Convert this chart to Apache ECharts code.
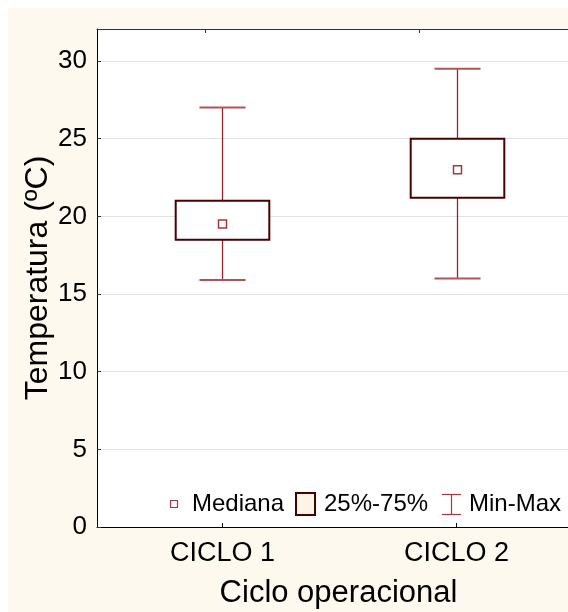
<!DOCTYPE html>
<html>
<head>
<meta charset="utf-8">
<script src="https://cdn.jsdelivr.net/npm/echarts@6/dist/echarts.min.js"></script>
<style>
html,body{margin:0;padding:0;background:#fff;}
#c{width:568px;height:612px;}
</style>
</head>
<body>
<div id="c"></div>
<script>
// ---- data ----
var categories = ['CICLO 1', 'CICLO 2'];
var minValues = [15.9, 16.0];
var q1Values = [18.5, 21.2];
var medianValues = [19.5, 23.0];
var q3Values = [21.0, 25.0];
var maxValues = [27.0, 29.5];
var legendLabels = ['Mediana', '25%-75%', 'Min-Max'];

var FONT = 'Liberation Sans, Arial, sans-serif';
var boxData = categories.map(function (c, i) {
  return [i + 1, minValues[i], q1Values[i], medianValues[i], q3Values[i], maxValues[i]];
});

var xMin = 0.4637, xMax = 2.485;

var chart = echarts.init(document.getElementById('c'), null, {renderer: 'canvas'});
chart.setOption({
  animation: false,
  backgroundColor: 'transparent',
  textStyle: {fontFamily: FONT},
  graphic: {
    elements: [
      {type: 'rect', left: 8, top: 8, z: -100, silent: true,
       shape: {width: 560, height: 604}, style: {fill: '#fdf9ef'}},
      // legend
      {type: 'rect', z: 100, shape: {x: 170.5, y: 500.5, width: 7, height: 7},
       style: {fill: '#fff', stroke: '#a8383e', lineWidth: 1.2}},
      {type: 'text', z: 100, x: 192, y: 504,
       style: {text: legendLabels[0], font: '24px ' + FONT, fill: '#000', verticalAlign: 'middle'}},
      {type: 'rect', z: 100, shape: {x: 296, y: 493, width: 19, height: 22},
       style: {fill: '#fdf6e8', stroke: '#4a0000', lineWidth: 2}},
      {type: 'text', z: 100, x: 324, y: 504,
       style: {text: legendLabels[1], font: '24px ' + FONT, fill: '#000', verticalAlign: 'middle'}},
      {type: 'line', z: 100, shape: {x1: 451.5, y1: 494, x2: 451.5, y2: 515}, style: {stroke: '#a8383e', lineWidth: 1.2}},
      {type: 'line', z: 100, shape: {x1: 442, y1: 494.5, x2: 461, y2: 494.5}, style: {stroke: '#a8383e', lineWidth: 1.2}},
      {type: 'line', z: 100, shape: {x1: 442, y1: 514.5, x2: 461, y2: 514.5}, style: {stroke: '#a8383e', lineWidth: 1.2}},
      {type: 'text', z: 100, x: 469, y: 504,
       style: {text: legendLabels[2], font: '24px ' + FONT, fill: '#000', verticalAlign: 'middle'}}
    ]
  },
  grid: {left: 97, top: 29, right: -2, bottom: 85, show: true, backgroundColor: '#ffffff', borderWidth: 0,
    containLabel: false, outerBoundsMode: 'none'},
  xAxis: [{
    type: 'value', min: xMin, max: xMax, position: 'bottom',
    axisLine: {show: true, onZero: false, lineStyle: {color: '#000', width: 1}},
    axisTick: {show: true, inside: true, length: 4, customValues: [1, 2], lineStyle: {color: '#000'}},
    axisLabel: {show: true, customValues: [1, 2], margin: 13, fontSize: 27, color: '#000', fontFamily: FONT,
      formatter: function (v) { return categories[Math.round(v) - 1] || ''; }},
    splitLine: {show: false},
    name: 'Ciclo operacional', nameLocation: 'middle', nameGap: 51, nameMoveOverlap: false,
    nameTextStyle: {fontSize: 31, color: '#000', fontFamily: FONT, padding: [0, 0, 0, 10]}
  }, {
    type: 'value', min: xMin, max: xMax, position: 'top',
    axisLine: {show: true, onZero: false, lineStyle: {color: '#333', width: 1}},
    axisTick: {show: true, inside: true, length: 4, customValues: [0.925, 1.84], lineStyle: {color: '#333'}},
    axisLabel: {show: false},
    splitLine: {show: false}
  }],
  yAxis: {
    type: 'value', min: 0, max: 32.06, interval: 5,
    axisLine: {show: true, lineStyle: {color: '#000', width: 1}},
    axisTick: {show: true, inside: true, length: 4, lineStyle: {color: '#333'}},
    axisLabel: {show: true, margin: 10, fontSize: 26, color: '#000', fontFamily: FONT, showMaxLabel: false},
    splitLine: {show: true, lineStyle: {color: '#e2e2e2', width: 1}},
    name: 'Temperatura (ºC)', nameLocation: 'middle', nameGap: 43, nameMoveOverlap: false,
    nameTextStyle: {fontSize: 32, color: '#000', fontFamily: FONT}
  },
  series: [{
    type: 'custom',
    name: 'box',
    xAxisIndex: 0,
    data: boxData,
    renderItem: function (params, api) {
      var x = api.value(0);
      var pMin = api.coord([x, api.value(1)]);
      var pQ1 = api.coord([x, api.value(2)]);
      var pMed = api.coord([x, api.value(3)]);
      var pQ3 = api.coord([x, api.value(4)]);
      var pMax = api.coord([x, api.value(5)]);
      var boxW = api.size([0.4, 0])[0];
      var capW = api.size([0.197, 0])[0];
      var cx = Math.round(pMed[0]) + 0.5;
      var wc = '#9e2028';
      var cc = '#b0545a';
      return {
        type: 'group',
        children: [
          {type: 'line', shape: {x1: cx, y1: pMax[1], x2: cx, y2: pQ3[1]}, style: {stroke: wc, lineWidth: 1.3}},
          {type: 'line', shape: {x1: cx, y1: pQ1[1], x2: cx, y2: pMin[1]}, style: {stroke: wc, lineWidth: 1.3}},
          {type: 'line', shape: {x1: cx - capW / 2, y1: pMax[1], x2: cx + capW / 2, y2: pMax[1]}, style: {stroke: cc, lineWidth: 2}},
          {type: 'line', shape: {x1: cx - capW / 2, y1: pMin[1], x2: cx + capW / 2, y2: pMin[1]}, style: {stroke: cc, lineWidth: 2}},
          {type: 'rect', shape: {x: cx - boxW / 2, y: pQ3[1], width: boxW, height: pQ1[1] - pQ3[1]},
           style: {fill: '#fff', stroke: '#4a0000', lineWidth: 2}},
          {type: 'rect', shape: {x: cx - 4, y: pMed[1] - 4, width: 8, height: 8},
           style: {fill: '#fff', stroke: '#a8383e', lineWidth: 1.5}}
        ]
      };
    }
  }]
});
</script>
</body>
</html>
